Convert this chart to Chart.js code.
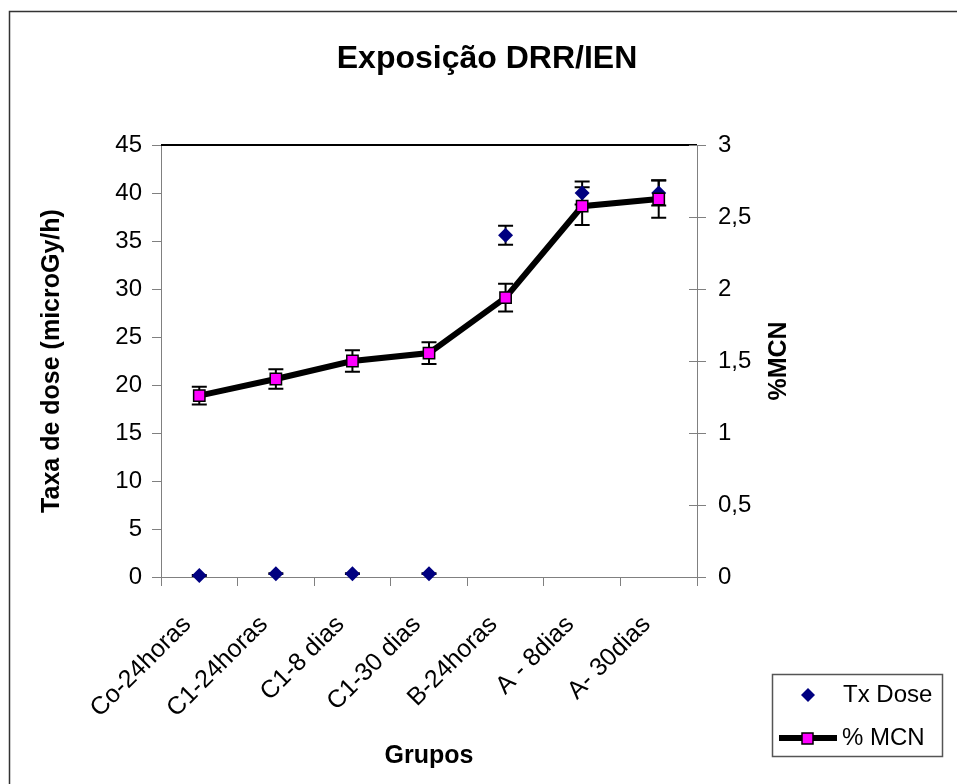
<!DOCTYPE html>
<html>
<head>
<meta charset="utf-8">
<script src="https://cdn.jsdelivr.net/npm/chart.js@4.4.1/dist/chart.umd.min.js"></script>
<style>
    html, body { margin: 0; padding: 0; background: #fff; }
    #wrap { width: 957px; height: 784px; position: relative; }
</style>
</head>
<body>
<div id="wrap"><canvas id="chart"></canvas></div>
<script>
// ============================================
// DADOS
// ============================================

const grupos = ['Co-24horas', 'C1-24horas', 'C1-8 dias', 'C1-30 dias', 'B-24horas', 'A - 8dias', 'A- 30dias'];

// Taxa de dose (microGy/h) - eixo esquerdo
const txDose = [0.15, 0.35, 0.35, 0.35, 35.6, 40.0, 40.0];
const txDoseErro = [0.05, 0.05, 0.05, 0.05, 1.0, 1.2, 1.3];

// %MCN - eixo direito
const mcn = [1.26, 1.375, 1.5, 1.555, 1.94, 2.575, 2.625];
const mcnErro = [0.062, 0.068, 0.075, 0.076, 0.097, 0.131, 0.13];

const ticksDose = [0, 5, 10, 15, 20, 25, 30, 35, 40, 45];
const ticksMcn = [0, 0.5, 1, 1.5, 2, 2.5, 3];

const FONTE = "'Liberation Sans', Arial, sans-serif";
const CINZA = '#808080';

// ============================================
// PLUGINS
// ============================================

// Barras de erro desenhadas atrás das séries
const barrasErro = {
    id: 'barrasErro',
    beforeDatasetsDraw(chart) {
        const ctx = chart.ctx;
        const xScale = chart.scales.x;
        const erros = [txDoseErro, mcnErro];
        ctx.save();
        ctx.strokeStyle = '#000';
        ctx.lineWidth = 2;
        chart.data.datasets.forEach((ds, i) => {
            const yScale = chart.scales[ds.yAxisID];
            erros[i].forEach((e, j) => {
                const px = xScale.getPixelForValue(j);
                const top = yScale.getPixelForValue(ds.data[j] + e);
                const bot = yScale.getPixelForValue(ds.data[j] - e);
                ctx.beginPath();
                ctx.moveTo(px, top); ctx.lineTo(px, bot);
                ctx.moveTo(px - 7.5, top); ctx.lineTo(px + 7.5, top);
                ctx.moveTo(px - 7.5, bot); ctx.lineTo(px + 7.5, bot);
                ctx.stroke();
            });
        });
        ctx.restore();
    }
};

// Moldura, título, eixo direito e legenda
const decoracao = {
    id: 'decoracao',
    afterDraw(chart) {
        const ctx = chart.ctx;
        const area = chart.chartArea;
        const y1 = chart.scales.y1;
        ctx.save();

        // moldura externa
        ctx.strokeStyle = '#333';
        ctx.lineWidth = 1.5;
        ctx.beginPath();
        ctx.moveTo(9.5, 790); ctx.lineTo(9.5, 11.5); ctx.lineTo(960, 11.5);
        ctx.stroke();

        // borda superior da área do gráfico
        ctx.strokeStyle = '#000';
        ctx.lineWidth = 2;
        ctx.beginPath();
        ctx.moveTo(area.left, area.top); ctx.lineTo(area.right, area.top);
        ctx.stroke();

        // marcas cruzadas no eixo direito (parte interna)
        ctx.strokeStyle = CINZA;
        ctx.lineWidth = 1;
        y1.ticks.forEach(t => {
            const py = Math.round(y1.getPixelForValue(t.value)) + 0.5;
            ctx.beginPath();
            ctx.moveTo(area.right - 8, py); ctx.lineTo(area.right, py);
            ctx.stroke();
        });

        // título
        ctx.fillStyle = '#000';
        ctx.font = 'bold 32px ' + FONTE;
        ctx.textAlign = 'center';
        ctx.textBaseline = 'alphabetic';
        ctx.fillText('Exposição DRR/IEN', 487, 68);

        // título do eixo direito
        ctx.save();
        ctx.translate(779, (area.top + area.bottom) / 2);
        ctx.rotate(-Math.PI / 2);
        ctx.font = 'bold 25px ' + FONTE;
        ctx.textBaseline = 'middle';
        ctx.fillText('%MCN', 0, 0);
        ctx.restore();

        // legenda
        const dsDose = chart.data.datasets[0];
        const dsMcn = chart.data.datasets[1];
        ctx.fillStyle = '#fff';
        ctx.fillRect(772, 674, 171, 83);
        ctx.strokeStyle = '#555';
        ctx.lineWidth = 1.5;
        ctx.strokeRect(772.5, 674.5, 170, 82);

        ctx.fillStyle = dsDose.pointBackgroundColor;
        ctx.beginPath();
        ctx.moveTo(808, 688); ctx.lineTo(815, 695); ctx.lineTo(808, 702); ctx.lineTo(801, 695);
        ctx.closePath();
        ctx.fill();

        ctx.strokeStyle = dsMcn.borderColor;
        ctx.lineWidth = dsMcn.borderWidth;
        ctx.beginPath();
        ctx.moveTo(779, 738); ctx.lineTo(837, 738);
        ctx.stroke();
        ctx.fillStyle = dsMcn.pointBackgroundColor;
        ctx.fillRect(802, 733, 11, 11);
        ctx.lineWidth = 1.5;
        ctx.strokeStyle = '#000';
        ctx.strokeRect(802, 733, 11, 11);

        ctx.fillStyle = '#000';
        ctx.font = '24px ' + FONTE;
        ctx.textAlign = 'left';
        ctx.textBaseline = 'middle';
        ctx.fillText('Tx Dose', 843, 695);
        ctx.fillText('% MCN', 842, 738);

        ctx.restore();
    }
};

// ============================================
// GRÁFICO
// ============================================

function criarGrafico() {
    const ctx = document.getElementById('chart');

    new Chart(ctx, {
        type: 'line',
        data: {
            labels: grupos,
            datasets: [{
                label: 'Tx Dose',
                data: txDose,
                yAxisID: 'y',
                showLine: false,
                pointStyle: 'rectRot',
                pointRadius: 7.5,
                pointBackgroundColor: '#000080',
                pointBorderColor: '#000080',
                pointBorderWidth: 0,
                order: 2,
                clip: false
            }, {
                label: '% MCN',
                data: mcn,
                yAxisID: 'y1',
                borderColor: '#000',
                borderWidth: 6,
                tension: 0,
                pointStyle: 'rect',
                pointRadius: 8,
                pointBackgroundColor: '#FF00FF',
                pointBorderColor: '#000',
                pointBorderWidth: 1.5,
                order: 1,
                clip: false
            }]
        },
        options: {
            responsive: true,
            maintainAspectRatio: false,
            animation: false,
            events: [],
            layout: {
                padding: { top: 145, left: 0, right: 0, bottom: 0 }
            },
            plugins: {
                legend: { display: false },
                title: { display: false },
                tooltip: { enabled: false }
            },
            scales: {
                x: {
                    offset: true,
                    grid: { offset: true, drawOnChartArea: false, color: CINZA, tickLength: 9 },
                    border: { color: CINZA, width: 1 },
                    ticks: {
                        color: '#000',
                        font: { family: FONTE, size: 25 },
                        minRotation: 45,
                        maxRotation: 45,
                        padding: 24,
                        labelOffset: -12,
                        autoSkip: false
                    },
                    title: {
                        display: true,
                        text: 'Grupos',
                        color: '#000',
                        font: { family: FONTE, size: 25, weight: 'bold' },
                        padding: { top: 0, bottom: 13 }
                    },
                    afterFit: s => { s.height = 207; }
                },
                y: {
                    position: 'left',
                    min: 0,
                    max: 45,
                    afterBuildTicks: s => { s.ticks = ticksDose.map(v => ({ value: v })); },
                    grid: { drawOnChartArea: false, color: CINZA, tickLength: 9 },
                    border: { color: CINZA, width: 1 },
                    ticks: {
                        color: '#000',
                        font: { family: FONTE, size: 24 },
                        padding: 10
                    },
                    title: {
                        display: true,
                        text: 'Taxa de dose (microGy/h)',
                        color: '#000',
                        font: { family: FONTE, size: 25, weight: 'bold' },
                        padding: { top: 37, bottom: 0 }
                    },
                    afterFit: s => { s.width = 161; }
                },
                y1: {
                    position: 'right',
                    min: 0,
                    max: 3,
                    afterBuildTicks: s => { s.ticks = ticksMcn.map(v => ({ value: v })); },
                    grid: { drawOnChartArea: false, color: CINZA, tickLength: 9 },
                    border: { color: CINZA, width: 1 },
                    ticks: {
                        color: '#000',
                        font: { family: FONTE, size: 24 },
                        padding: 12,
                        callback: v => String(v).replace('.', ',')
                    },
                    afterFit: s => { s.width = 260; }
                }
            }
        },
        plugins: [barrasErro, decoracao]
    });
}

document.addEventListener('DOMContentLoaded', criarGrafico);
</script>
</body>
</html>
